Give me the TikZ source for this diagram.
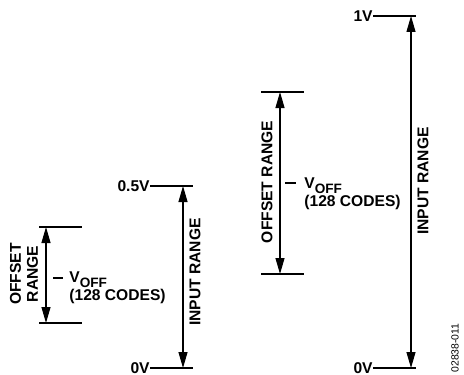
\documentclass[tikz,border=0pt]{standalone}
\usepackage{fontspec}
\setmainfont{Liberation Sans}
\usetikzlibrary{arrows.meta}

\newcommand{\voff}{V\raisebox{-2.8pt}{\fontsize{6.8}{7}\selectfont OFF}}

\begin{document}
\begin{tikzpicture}[
  x=0.5pt, y=-0.5pt,
  lbl/.style={font=\bfseries\fontsize{7.8}{8.6}\selectfont, inner sep=0pt},
  tick/.style={line width=0.55pt},
  rangearrow/.style={line width=0.55pt, {Triangle[length=8pt,width=4.5pt]}-{Triangle[length=8pt,width=4.5pt]}},
]
\useasboundingbox (0,0) rectangle (464,374);

% left part: 0.5V input range
\node[lbl, anchor=east] (halfV) at (150,186) {0.5V};
\node[lbl, anchor=east] (zeroA) at (150,368) {0V};
\coordinate (halfVend) at (193,186);
\coordinate (zeroAend) at (193,368);
\draw[tick] (halfV.east) -- (halfVend);
\draw[tick] (zeroA.east) -- (zeroAend);
\coordinate (inAtop) at (183,186);
\coordinate (inAbot) at (183,368);
\draw[rangearrow] (inAtop) -- (inAbot);
\node[lbl, rotate=90] (inA) at (195,272) {INPUT RANGE};

% left offset range
\coordinate (offAtop) at (39,227);
\coordinate (offAtopend) at (82,227);
\coordinate (offAbot) at (39,323);
\coordinate (offAbotend) at (82,323);
\draw[tick] (offAtop) -- (offAtopend);
\draw[tick] (offAbot) -- (offAbotend);
\coordinate (offAup) at (46,227);
\coordinate (offAdn) at (46,323);
\draw[rangearrow] (offAup) -- (offAdn);
\node[lbl, rotate=90, align=center] (offA) at (24,274) {OFFSET\\RANGE};
\coordinate (dashA) at (53,278);
\node[lbl, anchor=base west] (voffA) at (69,282) {\voff};
\node[lbl, anchor=base west] (codesA) at (69,300) {(128 CODES)};
\draw[tick] (dashA) -- ++(10,0);

% right part: 1V input range
\node[lbl, anchor=east] (oneV) at (373,16) {1V};
\node[lbl, anchor=east] (zeroB) at (373,368) {0V};
\coordinate (oneVend) at (416,16);
\coordinate (zeroBend) at (416,368);
\draw[tick] (oneV.east) -- (oneVend);
\draw[tick] (zeroB.east) -- (zeroBend);
\coordinate (inBtop) at (411,16);
\coordinate (inBbot) at (411,368);
\draw[rangearrow] (inBtop) -- (inBbot);
\node[lbl, rotate=90] (inB) at (423,181) {INPUT RANGE};

% right offset range
\coordinate (offBtop) at (261,92);
\coordinate (offBtopend) at (304,92);
\coordinate (offBbot) at (261,274);
\coordinate (offBbotend) at (304,274);
\draw[tick] (offBtop) -- (offBtopend);
\draw[tick] (offBbot) -- (offBbotend);
\coordinate (offBup) at (280,92);
\coordinate (offBdn) at (280,274);
\draw[rangearrow] (offBup) -- (offBdn);
\node[lbl, rotate=90] (offB) at (267,182) {OFFSET RANGE};
\coordinate (dashB) at (285,183);
\node[lbl, anchor=base west] (voffB) at (304,188) {\voff};
\node[lbl, anchor=base west] (codesB) at (304,206) {(128 CODES)};
\draw[tick] (dashB) -- ++(11,0);

\node[font=\fontsize{5.2}{6}\selectfont, rotate=90, inner sep=0pt] (figno) at (455,348) {02838-011};
\end{tikzpicture}
\end{document}
